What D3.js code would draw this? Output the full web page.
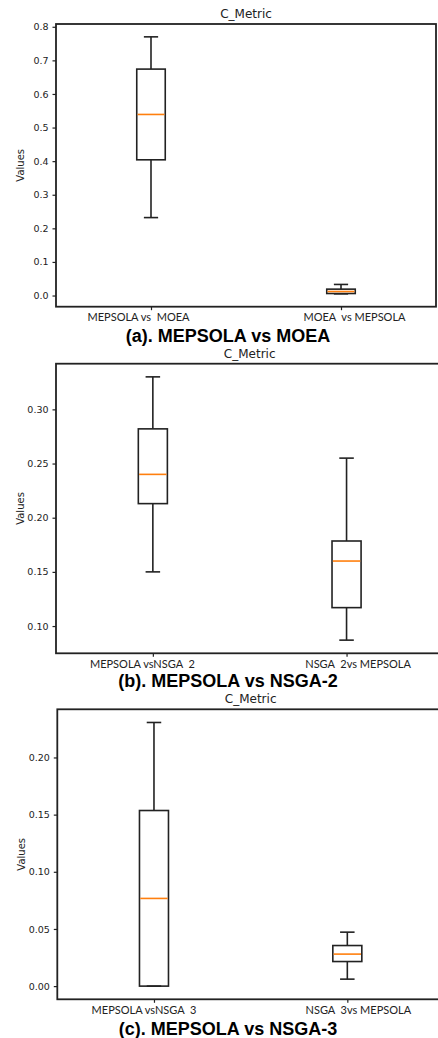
<!DOCTYPE html>
<html>
<head>
<meta charset="utf-8">
<script src="https://cdn.jsdelivr.net/npm/d3@7"></script>
<style>
  body { margin: 0; background: #fff; }
  svg { display: block; }
</style>
</head>
<body>
<div id="chart"></div>
<script>
var w = 438, h = 1038;

// box stats: [lower whisker, q1, median, q3, upper whisker]
var labelsA = ["MEPSOLA vs  MOEA", "MOEA  vs MEPSOLA"];
var boxesA = [[0.232, 0.404, 0.539, 0.674, 0.770], [0.005, 0.006, 0.012, 0.019, 0.033]];
var ticksA = [0.0, 0.1, 0.2, 0.3, 0.4, 0.5, 0.6, 0.7, 0.8];

var labelsB = ["MEPSOLA vsNSGA  2", "NSGA  2vs MEPSOLA"];
var boxesB = [[0.150, 0.213, 0.240, 0.282, 0.330], [0.087, 0.117, 0.160, 0.1785, 0.255]];
var ticksB = [0.10, 0.15, 0.20, 0.25, 0.30];

var labelsC = ["MEPSOLA vsNSGA  3", "NSGA  3vs MEPSOLA"];
var boxesC = [[0.0, 0.0, 0.0767, 0.1536, 0.2306], [0.0061, 0.0215, 0.028, 0.0355, 0.0472]];
var ticksC = [0.00, 0.05, 0.10, 0.15, 0.20];

var titles = ["C_Metric", "C_Metric", "C_Metric"];
var captions = ["(a). MEPSOLA vs MOEA", "(b). MEPSOLA vs NSGA-2", "(c). MEPSOLA vs NSGA-3"];

var svg = d3.select("#chart").append("svg")
    .attr("width", w)
    .attr("height", h);

var ink = "#222";

function drawPanel(p) {
    var g = svg.append("g");

    var lo = d3.min(p.boxes, function (d) { return d[0]; }),
        hi = d3.max(p.boxes, function (d) { return d[4]; }),
        pad = (hi - lo) * 0.05;

    var x = d3.scaleLinear().domain([0.5, 2.5]).range([p.left, p.right]);
    var y = d3.scaleLinear().domain([lo - pad, hi + pad]).range([p.bottom, p.top]);

    // y axis
    var yAxis = g.append("g")
        .attr("transform", "translate(" + p.left + ",0)")
        .call(d3.axisLeft(y).tickValues(p.ticks).tickFormat(d3.format(p.fmt)).tickSize(3.5).tickPadding(4));
    yAxis.select(".domain").remove();
    yAxis.selectAll("line").attr("stroke", ink).attr("stroke-width", 1.2);
    yAxis.selectAll("text")
        .attr("fill", ink)
        .style("font-family", "DejaVu Sans")
        .style("font-size", "9.5px");

    // x axis ticks + labels
    var xAxis = g.append("g")
        .attr("transform", "translate(0," + p.bottom + ")")
        .call(d3.axisBottom(x).tickValues([1, 2]).tickFormat(function (d, i) { return p.labels[i]; }).tickSize(3.5).tickPadding(3));
    xAxis.select(".domain").remove();
    xAxis.selectAll("line").attr("stroke", ink).attr("stroke-width", 1.2);
    xAxis.selectAll("text")
        .attr("fill", ink)
        .attr("dx", function (d, i) { return i === 0 ? -p.shift : p.shift; })
        .style("font-family", "Lato")
        .style("font-size", "11px")
        .style("white-space", "pre");

    // frame
    g.append("rect")
        .attr("x", p.left)
        .attr("y", p.top)
        .attr("width", p.right - p.left)
        .attr("height", p.bottom - p.top)
        .attr("fill", "none")
        .attr("stroke", ink)
        .attr("stroke-width", 1.8);

    var bw = x(1.075) - x(0.925);  // box width 0.15
    var cw = bw / 2;
    var lw = 1.6;

    var box = g.selectAll(".box")
        .data(p.boxes)
        .enter().append("g")
        .attr("class", "box");

    // whiskers
    box.append("line")
        .attr("x1", function (d, i) { return x(i + 1); })
        .attr("x2", function (d, i) { return x(i + 1); })
        .attr("y1", function (d) { return y(d[0]); })
        .attr("y2", function (d) { return y(d[1]); })
        .attr("stroke", ink).attr("stroke-width", lw);
    box.append("line")
        .attr("x1", function (d, i) { return x(i + 1); })
        .attr("x2", function (d, i) { return x(i + 1); })
        .attr("y1", function (d) { return y(d[3]); })
        .attr("y2", function (d) { return y(d[4]); })
        .attr("stroke", ink).attr("stroke-width", lw);
    // caps
    [0, 4].forEach(function (k) {
        box.append("line")
            .attr("x1", function (d, i) { return x(i + 1) - cw / 2; })
            .attr("x2", function (d, i) { return x(i + 1) + cw / 2; })
            .attr("y1", function (d) { return y(d[k]); })
            .attr("y2", function (d) { return y(d[k]); })
            .attr("stroke", ink).attr("stroke-width", lw);
    });
    // box
    box.append("rect")
        .attr("x", function (d, i) { return x(i + 1) - bw / 2; })
        .attr("y", function (d) { return y(d[3]); })
        .attr("width", bw)
        .attr("height", function (d) { return y(d[1]) - y(d[3]); })
        .attr("fill", "none")
        .attr("stroke", ink).attr("stroke-width", lw);
    // median
    box.append("line")
        .attr("x1", function (d, i) { return x(i + 1) - bw / 2 + 0.8; })
        .attr("x2", function (d, i) { return x(i + 1) + bw / 2 - 0.8; })
        .attr("y1", function (d) { return y(d[2]); })
        .attr("y2", function (d) { return y(d[2]); })
        .attr("stroke", "#ff7f0e").attr("stroke-width", 1.6);

    // title
    g.append("text")
        .attr("x", (p.left + p.right) / 2)
        .attr("y", p.top - 6)
        .attr("text-anchor", "middle")
        .attr("fill", ink)
        .style("font-family", "DejaVu Sans")
        .style("font-size", "12px")
        .text(p.title);

    // y label
    g.append("text")
        .attr("transform", "translate(" + (p.left - 32) + "," + ((p.top + p.bottom) / 2) + ") rotate(-90)")
        .attr("text-anchor", "middle")
        .attr("fill", ink)
        .style("font-family", "DejaVu Sans")
        .style("font-size", "10px")
        .text("Values");

    // caption
    g.append("text")
        .attr("x", p.capX)
        .attr("y", p.capY)
        .attr("text-anchor", "middle")
        .attr("fill", "#000")
        .style("font-family", "Liberation Sans, Arial")
        .style("font-weight", "bold")
        .style("font-size", "18px")
        .text(p.caption);
}

drawPanel({ boxes: boxesA, labels: labelsA, ticks: ticksA, fmt: ".1f", title: titles[0], caption: captions[0],
    left: 56, right: 436, top: 24, bottom: 306.7, shift: 13, capX: 228, capY: 341.5 });
drawPanel({ boxes: boxesB, labels: labelsB, ticks: ticksB, fmt: ".2f", title: titles[1], caption: captions[1],
    left: 56, right: 443.4, top: 363.7, bottom: 653.3, shift: 11, capX: 228, capY: 687 });
drawPanel({ boxes: boxesC, labels: labelsC, ticks: ticksC, fmt: ".2f", title: titles[2], caption: captions[2],
    left: 57.3, right: 444, top: 709.3, bottom: 999.3, shift: 10.5, capX: 228, capY: 1035 });
</script>
</body>
</html>
